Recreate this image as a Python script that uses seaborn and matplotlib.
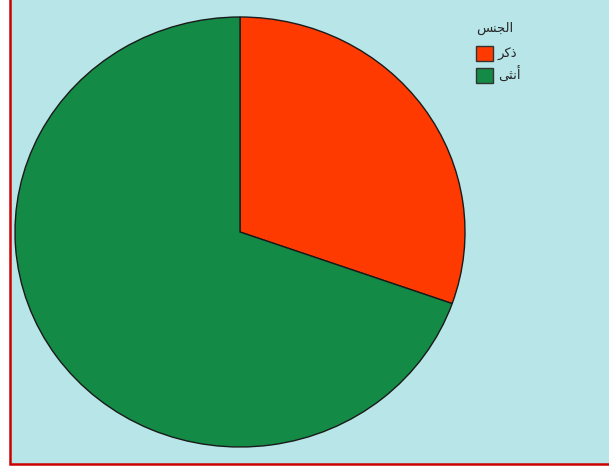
import matplotlib
matplotlib.use("Agg")
import matplotlib.pyplot as plt
import seaborn as sns
from matplotlib.patches import Rectangle, Patch

# Data
categories = ["ذكر", "أنثى"]
values = [30.4, 69.6]
legend_title = "الجنس"
colors = ["#FF3A00", "#138A45"]

sns.set_style("white")
plt.rcParams['font.family'] = ['DejaVu Sans']

# Minimal Arabic shaping (contextual forms + visual order) for display
FORMS = {
    'ا': ('\uFE8D', '\uFE8E', None, None),
    'أ': ('\uFE83', '\uFE84', None, None),
    'ل': ('\uFEDD', '\uFEDE', '\uFEDF', '\uFEE0'),
    'ج': ('\uFE9D', '\uFE9E', '\uFE9F', '\uFEA0'),
    'ن': ('\uFEE5', '\uFEE6', '\uFEE7', '\uFEE8'),
    'س': ('\uFEB1', '\uFEB2', '\uFEB3', '\uFEB4'),
    'ذ': ('\uFEAB', '\uFEAC', None, None),
    'ك': ('\uFED9', '\uFEDA', '\uFEDB', '\uFEDC'),
    'ر': ('\uFEAD', '\uFEAE', None, None),
    'ث': ('\uFE99', '\uFE9A', '\uFE9B', '\uFE9C'),
    'ى': ('\uFEEF', '\uFEF0', None, None),
}

def shape(text):
    out = []
    n = len(text)
    for i, ch in enumerate(text):
        if ch not in FORMS:
            out.append(ch)
            continue
        f = FORMS[ch]
        prev = text[i - 1] if i > 0 else None
        nxt = text[i + 1] if i < n - 1 else None
        join_prev = prev in FORMS and FORMS[prev][2] is not None
        join_next = nxt in FORMS and f[2] is not None
        if join_prev and join_next:
            out.append(f[3])
        elif join_prev:
            out.append(f[1])
        elif join_next:
            out.append(f[2])
        else:
            out.append(f[0])
    return ''.join(reversed(out))

W, H = 609, 469
fig = plt.figure(figsize=(W / 100, H / 100), dpi=100)
fig.patch.set_facecolor("white")

# Background panel with red border
bg = Rectangle((10 / W, 5 / H), 1.0, 1.0, transform=fig.transFigure,
               facecolor="#B7E5E8", edgecolor="#CC0000", linewidth=1.8, zorder=-10)
fig.patches.append(bg)

ax = fig.add_axes([15 / W, 22 / H, 450 / W, 430 / H])
ax.set_zorder(5)
ax.set_facecolor("none")
wedges, _ = ax.pie(values, colors=colors, startangle=90, counterclock=False,
                   wedgeprops=dict(edgecolor="#1a1a1a", linewidth=1.0))
ax.set_aspect('auto')
ax.set_xlim(-1, 1)
ax.set_ylim(-1, 1)
ax.axis('off')

handles = [Patch(facecolor=c, edgecolor="#333333", linewidth=1.0) for c in colors]
leg = fig.legend(handles, [shape(c) for c in categories], title=shape(legend_title),
                 loc="upper left", bbox_to_anchor=(464 / W, 1 - 10 / H),
                 frameon=False, fontsize=9.5, title_fontsize=9.5,
                 handlelength=1.3, handleheight=1.3, handletextpad=0.35,
                 labelspacing=0.45)
leg.set_zorder(10)
leg._legend_box.align = "left"
leg._legend_box.sep = 8

fig.savefig("out.png", dpi=100)
